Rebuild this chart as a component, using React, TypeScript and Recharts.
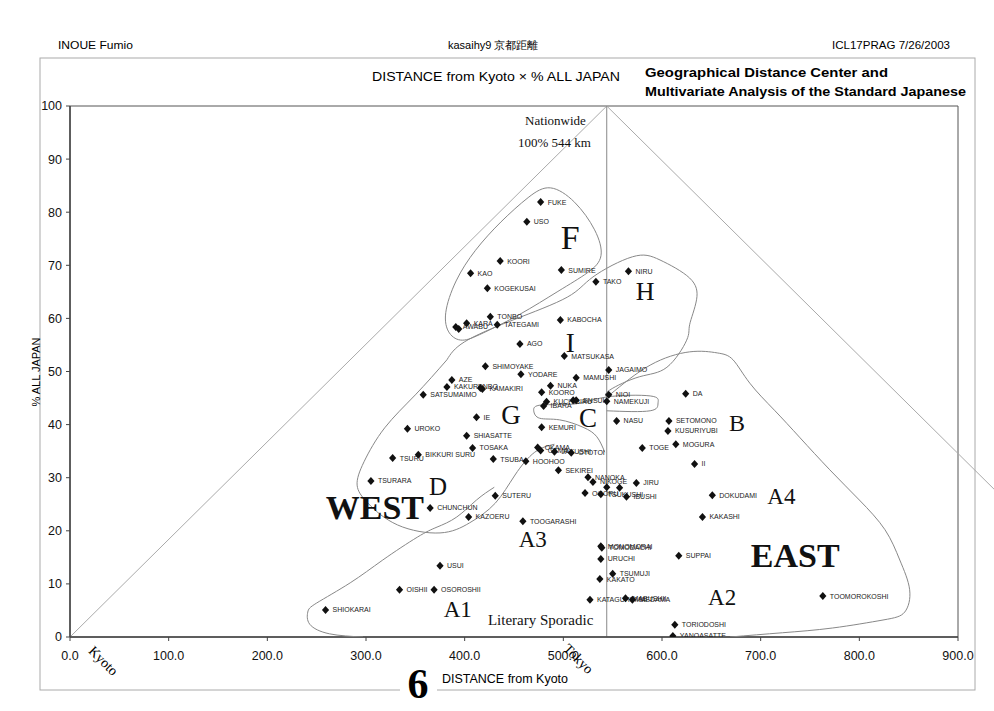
import { ScatterChart, Scatter, XAxis, YAxis, ReferenceLine, ReferenceArea } from 'recharts'

// words: km from Kyoto (x) and % of all Japan (y)
const words = [
  'FUKE', 'USO', 'KOORI', 'KAO', 'SUMIRE', 'NIRU', 'TAKO', 'KOGEKUSAI', 'TONBO', 'KARA',
  'TATEGAMI', 'AWABU', '', 'KABOCHA', 'AGO', 'MATSUKASA', 'SHIMOYAKE', 'JAGAIMO', 'YODARE', 'AZE',
  'MAMUSHI', 'KAKURENBO', 'KAMAKIRI', '', 'NUKA', 'KOORO', 'SATSUMAIMO', 'KUCHIBIRU', 'IBARA', 'ENSUI',
  '', 'NIOI', 'NAMEKUJI', 'DA', 'IE', 'NASU', 'KEMURI', 'UROKO', 'SETOMONO', 'KUSURIYUBI',
  'SHIASATTE', 'MOGURA', 'TOSAKA', 'TOGE', 'OKAMA', 'GAMA', 'JAKUSHI', 'OTOTOI', 'TSURU', 'BIKKURI SURU',
  'TSUBA', 'HOOHOO', 'II', 'SEKIREI', 'TSURARA', 'NANOKA', 'NIKOGE', '', '', 'JIRU',
  'OGORU', 'TSUKUSHI', 'IBUSHI', 'DOKUDAMI', 'SUTERU', 'CHUNCHUN', 'KAZOERU', 'KAKASHI', 'TOOGARASHI', 'MONOMORAI',
  'TOMODACHI', 'URUCHI', 'SUPPAI', 'USUI', 'TSUMUJI', 'KAKATO', 'OISHII', 'OSOROSHII', 'TOOMOROKOSHI', 'KATAGURUMA',
  'MABUSHII', 'MEDAMA', 'SHIOKARAI', 'TORIODOSHI', 'YANOASATTE',
]
const distances = [
  477, 463, 436, 406, 498, 566, 533, 423, 426, 402,
  433, 391, 394, 497, 456, 501, 421, 546, 457, 387,
  513, 382, 418, 416, 487, 478, 358, 483, 480, 513,
  510, 546, 544, 624, 412, 554, 478, 342, 607, 606,
  402, 614, 408, 580, 474, 477, 491, 508, 327, 353,
  429, 462, 633, 495, 305, 525, 530, 544, 557, 574,
  522, 538, 564, 651, 431, 365, 404, 641, 459, 538,
  539, 538, 617, 375, 550, 537, 334, 369, 763, 527,
  563, 570, 259, 613, 611,
]
const shares = [
  81.9, 78.2, 70.8, 68.5, 69.1, 68.9, 66.9, 65.7, 60.3, 59.1,
  58.8, 58.4, 58.0, 59.7, 55.2, 52.9, 51.0, 50.3, 49.5, 48.4,
  48.8, 47.1, 46.7, 46.9, 47.3, 46.1, 45.6, 44.3, 43.5, 44.6,
  44.6, 45.6, 44.4, 45.8, 41.4, 40.7, 39.5, 39.2, 40.7, 38.8,
  37.9, 36.3, 35.6, 35.6, 35.7, 35.1, 34.9, 34.7, 33.7, 34.3,
  33.5, 33.1, 32.6, 31.4, 29.4, 30.1, 29.2, 28.2, 28.1, 29.0,
  27.1, 26.9, 26.4, 26.7, 26.6, 24.3, 22.6, 22.6, 21.8, 17.1,
  16.8, 14.7, 15.3, 13.4, 11.9, 10.9, 8.9, 8.9, 7.7, 7.0,
  7.3, 7.0, 5.1, 2.3, 0.2,
]

const xTicks = [0, 100, 200, 300, 400, 500, 600, 700, 800, 900]
const yTicks = [0, 10, 20, 30, 40, 50, 60, 70, 80, 90, 100]
const tokyoKm = 544

// hand drawn group outlines (km, %)
const outlineF = [[486, 85.5], [512, 82.3], [534, 76.6], [542, 71.4], [527, 68.7], [496, 65.3], [456, 60.6], [415, 56.9], [397, 55.4], [383, 56.9], [378, 60.6], [390, 67.2], [410, 72.9], [436, 78.2], [466, 83.2]]
const outlineH = [[382, 52.2], [400, 55.6], [449, 59.7], [504, 64.0], [530, 67.8], [570, 71.6], [598, 71.0], [628, 67.6], [635, 63.5], [628, 58.8], [625, 55.9], [605, 50.8], [577, 49.0], [547, 46.5], [544, 45.2]]
const outlineWest = [[382, 52.2], [350, 45.6], [319, 39.4], [298, 33.0], [291, 28.6], [302, 25.2], [332, 21.1], [375, 19.6], [405, 21.5], [431, 25.2], [451, 30.5], [471, 34.8], [491, 36.3]]
const outlineC = [[542, 34.8], [534, 37.7], [520, 39.5], [496, 40.9], [476, 41.2], [470, 42.6], [478, 43.7], [512, 43.9], [544, 45.2], [588, 45.4], [596, 44.1], [588, 42.6], [544, 42.6]]
const outlineEast = [[547, 45.6], [588, 51.2], [628, 53.7], [656, 53.5], [672, 52.2], [689, 47.8], [714, 42.7], [740, 37.5], [770, 31.5], [800, 25.8], [826, 20.2], [841, 14.5], [851, 8.9], [846, 4.7], [824, 3.2], [773, 1.7], [722, 0.8], [669, 0]]
const outlineA = [[297, 0], [263, 0.6], [243, 2.4], [241, 4.7], [250, 6.4], [284, 10.2], [317, 14.5], [352, 18.8], [372, 20.7], [392, 22.6], [412, 25.8], [430, 28.2]]

const groupNames = ['F', 'H', 'I', 'G', 'C', 'B', 'D', 'WEST', 'EAST', 'A1', 'A2', 'A3', 'A4', 'Literary Sporadic', 'Nationwide', '100% 544 km']
const groupX = [507, 583, 507, 447, 525, 676, 373, 309, 735, 393, 661, 469, 721, 477, 492, 491]
const groupY = [75.3, 65.0, 55.4, 41.8, 41.2, 40.3, 28.4, 24.3, 15.4, 5.1, 7.5, 18.3, 26.4, 3.2, 97.2, 93.2]

const points = words.map((name, i) => ({ x: distances[i], y: shares[i], name }))
const groups = groupNames.map((name, i) => ({ x: groupX[i], y: groupY[i], name }))
const toXY = (a: number[][]) => a.map(([x, y]) => ({ x, y }))

const sans = '"Liberation Sans", Arial, sans-serif'
const narrow = '"Liberation Sans Narrow", "Liberation Sans", Arial, sans-serif'
const serif = '"Liberation Serif", "DejaVu Serif", serif'

const groupFont: Record<string, number> = {
  F: 34, H: 26, I: 27, G: 27, C: 27, B: 24, D: 25, WEST: 34, EAST: 34,
  A1: 23, A2: 23, A3: 23, A4: 23, 'Literary Sporadic': 15, Nationwide: 13, '100% 544 km': 13,
}

function WordMark(props: any) {
  const { cx, cy, payload } = props
  return (
    <g>
      <path d={`M${cx},${cy - 4}L${cx + 3.6},${cy}L${cx},${cy + 4}L${cx - 3.6},${cy}Z`} fill="#111" />
      {payload.name && (
        <text x={cx + 7} y={cy} dy="0.35em" fontSize={7} fontFamily={sans} fill="#222">{payload.name}</text>
      )}
    </g>
  )
}

function GroupText(props: any) {
  const { cx, cy, payload } = props
  const bold = payload.name === 'WEST' || payload.name === 'EAST'
  return (
    <text x={cx} y={cy} textAnchor="middle" dominantBaseline="central" fontFamily={serif}
      fontSize={groupFont[payload.name] ?? 24} fontWeight={bold ? 'bold' : 'normal'} fill="#111">
      {payload.name}
    </text>
  )
}

const noDot = () => <g />

export default function App() {
  const outline = (data: number[][], joint: any, key: string) => (
    <Scatter key={key} data={toXY(data)} line={{ stroke: '#888', strokeWidth: 1 }} lineJointType={joint}
      shape={noDot} isAnimationActive={false} />
  )
  return (
    <div style={{ position: 'absolute', left: 0, top: 0, width: 994, height: 711, background: '#fff' }}>
      <ScatterChart width={994} height={711} margin={{ top: 106, right: 36, bottom: 44, left: 30 }}>
        <XAxis type="number" dataKey="x" domain={[0, 900]} ticks={xTicks} allowDataOverflow height={30}
          tickFormatter={(v: number) => v.toFixed(1)} tickSize={4} tickMargin={10}
          tick={{ fontSize: 12.5, fill: '#111', fontFamily: sans }}
          axisLine={{ stroke: '#444', strokeWidth: 1.5 }} tickLine={{ stroke: '#444' }} />
        <YAxis type="number" dataKey="y" domain={[0, 100]} ticks={yTicks} allowDataOverflow width={40}
          tickSize={4} tickMargin={4} tick={{ fontSize: 12.5, fill: '#111', fontFamily: sans }}
          axisLine={{ stroke: '#444', strokeWidth: 1.5 }} tickLine={{ stroke: '#444' }} />
        <ReferenceArea x1={0} x2={900} y1={0} y2={100} fill="none" stroke="#555" strokeWidth={1} />
        <ReferenceLine segment={[{ x: 0, y: 0 }, { x: tokyoKm, y: 100 }]} stroke="#aaa" />
        <ReferenceLine segment={[{ x: tokyoKm, y: 100 }, { x: tokyoKm * 2, y: 0 }]} stroke="#aaa" ifOverflow="visible" />
        <ReferenceLine x={tokyoKm} stroke="#888" />
        {outline(outlineF, 'basisClosed', 'f')}
        {outline(outlineH, 'natural', 'h')}
        {outline(outlineWest, 'natural', 'w')}
        {outline(outlineC, 'natural', 'c')}
        {outline(outlineEast, 'natural', 'e')}
        {outline(outlineA, 'natural', 'a')}
        <Scatter data={groups} shape={GroupText} isAnimationActive={false} />
        <Scatter data={points} shape={WordMark} isAnimationActive={false} />
      </ScatterChart>
      <svg width={994} height={711} style={{ position: 'absolute', left: 0, top: 0, pointerEvents: 'none' }}>
        <rect x={40} y={58} width={935} height={632} fill="none" stroke="#aaa" />
        <text x={58} y={49} fontSize={11} fontFamily={narrow} textLength={75} lengthAdjust="spacingAndGlyphs">INOUE Fumio</text>
        <text x={448} y={49} fontSize={11} fontFamily={narrow}>kasaihy9 京都距離</text>
        <text x={832} y={49} fontSize={11} fontFamily={narrow} textLength={118} lengthAdjust="spacingAndGlyphs">ICL17PRAG 7/26/2003</text>
        <text x={372} y={81} fontSize={12} fontFamily={narrow} textLength={248} lengthAdjust="spacingAndGlyphs">DISTANCE from Kyoto × % ALL JAPAN</text>
        <text x={645} y={77} fontSize={13} fontWeight="bold" fontFamily={sans} textLength={243} lengthAdjust="spacingAndGlyphs">Geographical Distance Center and</text>
        <text x={645} y={96} fontSize={13} fontWeight="bold" fontFamily={sans} textLength={321} lengthAdjust="spacingAndGlyphs">Multivariate Analysis of the Standard Japanese</text>
        <text transform="translate(40,372) rotate(-90)" textAnchor="middle" fontSize={11} fontFamily={narrow}>% ALL JAPAN</text>
        <text x={442} y={683} fontSize={12} fontFamily={narrow} textLength={126} lengthAdjust="spacingAndGlyphs">DISTANCE from Kyoto</text>
        <text transform="translate(100,664) rotate(45)" textAnchor="middle" fontSize={14} fontFamily={serif}>Kyoto</text>
        <text transform="translate(575,662) rotate(45)" textAnchor="middle" fontSize={14} fontFamily={serif}>Tokyo</text>
        <rect x={400} y={666} width={37} height={45} fill="#fff" />
        <text x={418} y={698} textAnchor="middle" fontSize={42} fontWeight="bold" fontFamily={serif}>6</text>
      </svg>
    </div>
  )
}
